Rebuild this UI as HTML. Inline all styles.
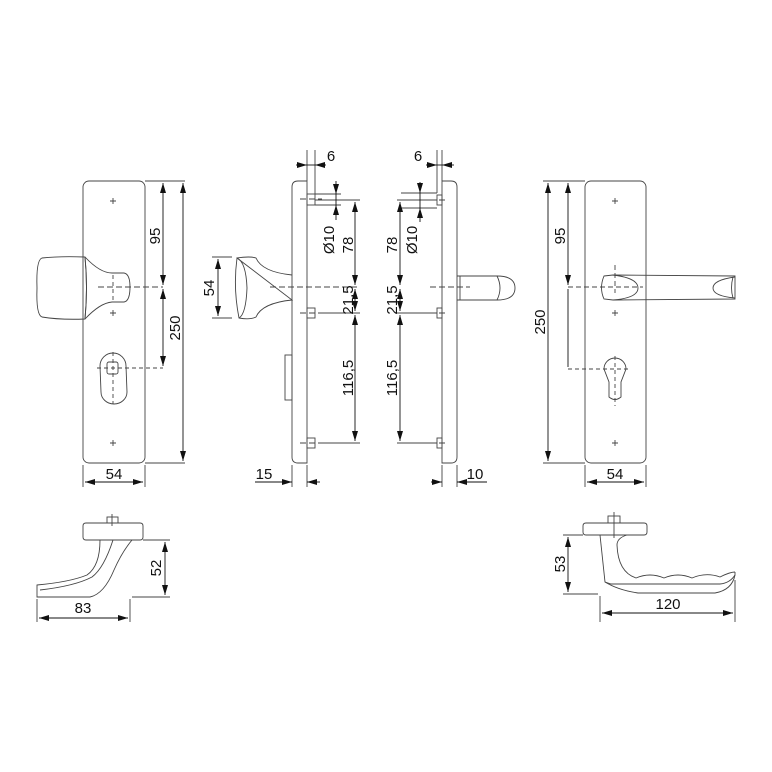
<!DOCTYPE html>
<html><head><meta charset="utf-8"><style>
html,body{margin:0;padding:0;background:#fff}
svg{display:block}
text{font-family:"Liberation Sans",sans-serif;font-size:15px;fill:#111}
</style></head><body>
<svg width="772" height="772" viewBox="0 0 772 772" xmlns="http://www.w3.org/2000/svg">
<defs>
<marker id="a" viewBox="0 0 10 6" refX="10" refY="3" markerWidth="10" markerHeight="6" orient="auto-start-reverse" markerUnits="userSpaceOnUse"><path d="M0,0L10,3L0,6z" fill="#111"/></marker>
</defs>
<g fill="none" stroke="#444" stroke-width="0.9">
<rect x="83" y="181" width="62" height="282" rx="6"/>
<path d="M110,201h6M113,198v6M110,313h6M113,310v6M110,443h6M113,440v6"/>
<path d="M42,258 Q60,256 85,257 Q88,287 85,319 Q60,320 42,317 Q36,315 37,288 Q36,260 42,258Z"/>
<path d="M85,257 Q88,288 85,319"/>
<path d="M85,257 Q100,273 112,273 L124,273 Q130,274 130,287 Q130,301 124,302 L112,302 Q100,303 85,319"/>
<path d="M98,287h65" stroke-dasharray="6,3"/>
<path d="M113,275v26" stroke-dasharray="4,3"/>
<path d="M100,366 A13,13 0 0 1 126,366 L127,392 A13,12 0 0 1 101,392 Z"/>
<rect x="107" y="362" width="11" height="12" rx="2"/>
<path d="M97,368h66M113,352v52" stroke-dasharray="4,3"/>
<path d="M145,181h40M145,463h40M83,465v22M145,465v22"/>
</g>
<g stroke="#111" stroke-width="0.9" fill="none">
<path d="M163,183V285" marker-start="url(#a)" marker-end="url(#a)"/>
<path d="M163,289V366" marker-start="url(#a)" marker-end="url(#a)"/>
<path d="M183,183V461" marker-start="url(#a)" marker-end="url(#a)"/>
<path d="M85,482H143" marker-start="url(#a)" marker-end="url(#a)"/>
</g>
<text transform="translate(160,236) rotate(-90)" text-anchor="middle">95</text>
<text transform="translate(180,328) rotate(-90)" text-anchor="middle">250</text>
<text x="114" y="479" text-anchor="middle">54</text>

<g fill="none" stroke="#444" stroke-width="0.9">
<path d="M298,181H307V463H298Q292,463 292,457V187Q292,181 298,181Z"/>
<rect x="285" y="355" width="7" height="45"/>
<rect x="307" y="194" width="8" height="11"/><rect x="307" y="308" width="8" height="10"/><rect x="307" y="438" width="8" height="10"/>
<path d="M237,258 Q250,256 256,258 Q262,272 292,275 M292,300 Q262,303 256,317 Q250,320 239,318 Q233,288 237,258Z"/>
<path d="M237,258 Q246,262 247,288 Q246,314 239,318"/>
<path d="M270,287H360M300,199H322M300,313H322M300,443H322" stroke-dasharray="6,3"/>
<path d="M307,150V181M315,150V194M315,194h26M315,205h26M315,200h45M318,313h42M318,443h42M232,257h-20M232,318h-20M292,465v22M307,465v22"/>
</g>
<g stroke="#111" stroke-width="0.9" fill="none">
<path d="M296,165H307" marker-end="url(#a)"/><path d="M326,165H315" marker-end="url(#a)"/><path d="M307,165h8"/>
<path d="M336,181V194" marker-end="url(#a)"/><path d="M336,220V205" marker-end="url(#a)"/><path d="M336,194v11"/>
<path d="M355,202V285" marker-start="url(#a)" marker-end="url(#a)"/>
<path d="M355,289V311" marker-start="url(#a)" marker-end="url(#a)"/>
<path d="M355,315V441" marker-start="url(#a)" marker-end="url(#a)"/>
<path d="M218,259V316" marker-start="url(#a)" marker-end="url(#a)"/>
<path d="M278,482H292" marker-end="url(#a)"/><path d="M320,482H307" marker-end="url(#a)"/><path d="M255,482h37"/>
</g>
<text x="331" y="161" text-anchor="middle">6</text>
<text transform="translate(334,240) rotate(-90)" text-anchor="middle">Ø10</text>
<text transform="translate(353,245) rotate(-90)" text-anchor="middle">78</text>
<text transform="translate(353,300) rotate(-90)" text-anchor="middle">21,5</text>
<text transform="translate(353,378) rotate(-90)" text-anchor="middle">116,5</text>
<text transform="translate(214,288) rotate(-90)" text-anchor="middle">54</text>
<text x="264" y="479" text-anchor="middle">15</text>

<g fill="none" stroke="#444" stroke-width="0.9">
<path d="M442,181H451Q457,181 457,187V457Q457,463 451,463H442Z"/>
<rect x="437" y="195" width="5" height="10"/><rect x="437" y="308" width="5" height="10"/><rect x="437" y="438" width="5" height="10"/>
<path d="M457,276H497Q515,276 515,288Q515,300 497,300H457"/>
<path d="M460,276V300M497,276Q503,288 497,300"/>
<path d="M430,287H470M430,200H448M430,313H448M430,443H448" stroke-dasharray="6,3"/>
<path d="M442,150V181M437,150V193M437,193h-36M437,208h-36M437,200h-40M437,313h-40M437,443h-40M442,465v22M457,465v22"/>
</g>
<g stroke="#111" stroke-width="0.9" fill="none">
<path d="M426,165H437" marker-end="url(#a)"/><path d="M454,165H442" marker-end="url(#a)"/><path d="M437,165h5"/>
<path d="M420,182V193" marker-end="url(#a)"/><path d="M420,222V208" marker-end="url(#a)"/><path d="M420,193v15"/>
<path d="M400,202V285" marker-start="url(#a)" marker-end="url(#a)"/>
<path d="M400,289V311" marker-start="url(#a)" marker-end="url(#a)"/>
<path d="M400,315V441" marker-start="url(#a)" marker-end="url(#a)"/>
<path d="M431,482H442" marker-end="url(#a)"/><path d="M468,482H457" marker-end="url(#a)"/><path d="M457,482h30"/>
</g>
<text x="418" y="161" text-anchor="middle">6</text>
<text transform="translate(417,240) rotate(-90)" text-anchor="middle">Ø10</text>
<text transform="translate(397,245) rotate(-90)" text-anchor="middle">78</text>
<text transform="translate(397,300) rotate(-90)" text-anchor="middle">21,5</text>
<text transform="translate(397,378) rotate(-90)" text-anchor="middle">116,5</text>
<text x="475" y="479" text-anchor="middle">10</text>

<g fill="none" stroke="#444" stroke-width="0.9">
<rect x="585" y="181" width="61" height="282" rx="6"/>
<path d="M612,201h6M615,198v6M612,313h6M615,310v6M612,443h6M615,440v6"/>
<path d="M604,276L613,275L735,276V299L613,300L604,299Q599,288 604,276Z"/>
<path d="M613,275Q638,278 638,288Q638,298 613,300M735,277Q713,280 713,288Q713,296 735,298M733,277Q730,288 733,298"/>
<path d="M568,287h75M615,265v28" stroke-dasharray="5,3"/>
<path d="M604,369 A11,11 0 1 1 626,369 L621,382 L621,397 Q615,402 609,397 L609,382 Z"/>
<path d="M568,369h60M615,356v50" stroke-dasharray="4,3"/>
<path d="M585,181h-42M585,463h-42M585,465v22M646,465v22"/>
</g>
<g stroke="#111" stroke-width="0.9" fill="none">
<path d="M568,183V285" marker-start="url(#a)" marker-end="url(#a)"/>
<path d="M568,289V367"/>
<path d="M548,183V461" marker-start="url(#a)" marker-end="url(#a)"/>
<path d="M587,482H644" marker-start="url(#a)" marker-end="url(#a)"/>
</g>
<text transform="translate(565,236) rotate(-90)" text-anchor="middle">95</text>
<text transform="translate(545,322) rotate(-90)" text-anchor="middle">250</text>
<text x="615" y="479" text-anchor="middle">54</text>

<g fill="none" stroke="#444" stroke-width="0.9">
<rect x="107" y="517" width="11" height="6"/>
<path d="M86,523H140Q143,523 143,526V537Q143,540 140,540H86Q83,540 83,537V526Q83,523 86,523Z"/>
<path d="M100,540Q100,566 87,575Q70,582 37,585V597H90Q104,594 114,570Q122,552 132,540"/>
<path d="M113,540Q104,568 92,577Q75,586 40,590"/>
<path d="M143,540h27M132,597h38M37,599v23M130,599v23M112,514v12" />
</g>
<g stroke="#111" stroke-width="0.9" fill="none">
<path d="M165,542V595" marker-start="url(#a)" marker-end="url(#a)"/>
<path d="M39,618H128" marker-start="url(#a)" marker-end="url(#a)"/>
</g>
<text transform="translate(161,568) rotate(-90)" text-anchor="middle">52</text>
<text x="83" y="613" text-anchor="middle">83</text>

<g fill="none" stroke="#444" stroke-width="0.9">
<rect x="608" y="516" width="12" height="7"/>
<path d="M586,523H644Q647,523 647,526V532Q647,535 644,535H586Q583,535 583,532V526Q583,523 586,523Z"/>
<path d="M600,535L605,582Q618,590 638,593H715Q732,590 735,575V572"/>
<path d="M627,535Q617,538 617,545Q618,572 636,578Q650,572 664,578Q678,572 692,578Q706,572 720,577Q730,572 735,572"/>
<path d="M605,582L611,584H720Q730,583 735,575"/>
<path d="M583,535h-20M598,594h-35M600,596v26M735,580v42M614,512v26" />
</g>
<g stroke="#111" stroke-width="0.9" fill="none">
<path d="M568,537V592" marker-start="url(#a)" marker-end="url(#a)"/>
<path d="M602,613H733" marker-start="url(#a)" marker-end="url(#a)"/>
</g>
<text transform="translate(565,564) rotate(-90)" text-anchor="middle">53</text>
<text x="668" y="609" text-anchor="middle">120</text>
</svg>
</body></html>
